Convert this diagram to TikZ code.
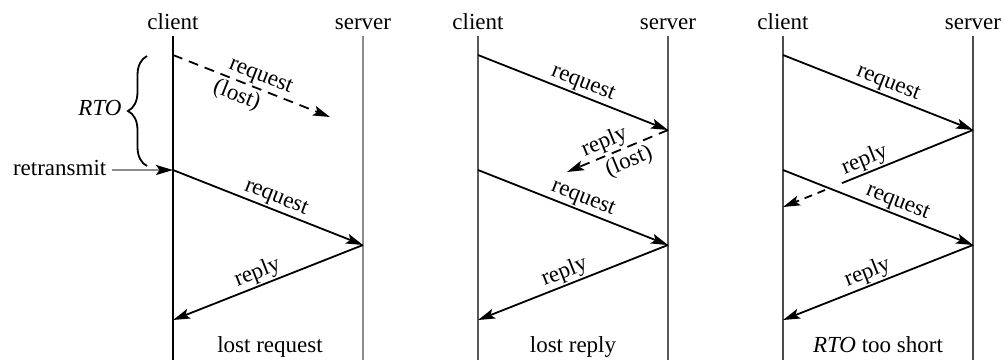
\documentclass[tikz,border=0pt]{standalone}
\usepackage{fontspec}
\setmainfont{Liberation Serif}
\usetikzlibrary{arrows.meta,decorations.pathreplacing}
\begin{document}
\begin{tikzpicture}[x=1pt,y=-1pt,
  every node/.style={font=\fontsize{23}{27}\selectfont, inner sep=1.5pt},
  tipstyle/.style={-{Stealth[length=17pt,width=10pt,inset=3.5pt]}},
  msg/.style={draw=black, line width=1.8pt, tipstyle},
  lostmsg/.style={msg, dash pattern=on 10pt off 7pt},
  plainmsg/.style={draw=black, line width=1.8pt},
  lifeA/.style={draw=black, line width=2.4pt},
  lifeB/.style={draw=black!45, line width=2.4pt},
  lifeC/.style={draw=black!65, line width=2.2pt},
  lifeD/.style={draw=black!70, line width=1.6pt},
  headlbl/.style={anchor=base},
  caplbl/.style={anchor=base},
  lostlbl/.style={sloped,below,inner sep=0pt,yshift=-3pt}
]
\useasboundingbox (0,0) rectangle (1004,360);

% ---------- panel 1 ----------
\node[headlbl] (c1) at (173,29) {client};
\node[headlbl] (s1) at (363,29) {server};
\coordinate (c1t) at (173,36); \coordinate (c1b) at (173,360);
\coordinate (s1t) at (363,36); \coordinate (s1b) at (363,360);
\draw[lifeA] (c1t) -- (c1b);
\draw[lifeB] (s1t) -- (s1b);
\coordinate (p1a) at (173,55);  \coordinate (p1b) at (330,117);
\coordinate (p1c) at (173,170); \coordinate (p1d) at (363,245);
\coordinate (p1e) at (173,320);
\draw[lostmsg] (p1a) -- node[sloped,above,pos=0.53] (l1a) {request}
                        node[lostlbl,pos=0.44] (l1b) {(lost)} (p1b);
\draw[msg] (p1c) -- node[sloped,above,pos=0.52] (l1c) {request} (p1d);
\draw[msg] (p1d) -- node[sloped,above,pos=0.53] (l1d) {reply} (p1e);
\node[caplbl] (cap1) at (270,352) {lost request};
% brace and retransmit
\coordinate (b1) at (147,166); \coordinate (b2) at (147,56);
\draw[line width=1.8pt, decorate, decoration={brace, amplitude=19pt}] (b1) -- (b2);
\node (rto) at (100,108) {\itshape RTO};
\node[anchor=east] (rt) at (108,168) {retransmit};
\draw[draw=black!45, line width=2pt, -{Stealth[length=17pt,width=10pt,inset=3.5pt,black]}] (rt.east) ++(4,2) -- (p1c);

% ---------- panel 2 ----------
\node[headlbl] (c2) at (478,29) {client};
\node[headlbl] (s2) at (668,29) {server};
\coordinate (c2t) at (478,36); \coordinate (c2b) at (478,360);
\coordinate (s2t) at (668,36); \coordinate (s2b) at (668,360);
\draw[lifeC] (c2t) -- (c2b);
\draw[lifeC] (s2t) -- (s2b);
\coordinate (p2a) at (478,55);  \coordinate (p2b) at (668,130);
\coordinate (p2c) at (567,172);
\coordinate (p2d) at (478,170); \coordinate (p2e) at (668,245);
\coordinate (p2f) at (478,320);
\draw[msg] (p2a) -- node[sloped,above,pos=0.53] (l2a) {request} (p2b);
\draw[lostmsg] (p2b) -- node[sloped,above,pos=0.58] (l2b) {reply}
                        node[lostlbl,pos=0.44] (l2c) {(lost)} (p2c);
\draw[msg] (p2d) -- node[sloped,above,pos=0.53] (l2d) {request} (p2e);
\draw[msg] (p2e) -- node[sloped,above,pos=0.52] (l2e) {reply} (p2f);
\node[caplbl] (cap2) at (573,352) {lost reply};

% ---------- panel 3 ----------
\node[headlbl] (c3) at (783,29) {client};
\node[headlbl] (s3) at (973,29) {server};
\coordinate (c3t) at (783,36); \coordinate (c3b) at (783,360);
\coordinate (s3t) at (973,36); \coordinate (s3b) at (973,360);
\draw[lifeD] (c3t) -- (c3b);
\draw[lifeD] (s3t) -- (s3b);
\coordinate (p3a) at (783,55);  \coordinate (p3b) at (973,130);
\coordinate (p3g) at (842,183.1); \coordinate (p3h) at (825,190);
\coordinate (p3c) at (783,207);
\coordinate (p3d) at (783,170); \coordinate (p3e) at (973,245);
\coordinate (p3f) at (783,320);
\draw[msg] (p3a) -- node[sloped,above,pos=0.53] (l3a) {request} (p3b);
\draw[plainmsg] (p3b) -- node[sloped,above,pos=0.79] (l3b) {reply} (p3g);
\draw[msg, dash pattern=on 8pt off 6pt] (p3h) -- (p3c);
\draw[msg] (p3d) -- node[sloped,above,pos=0.58] (l3d) {request} (p3e);
\draw[msg] (p3e) -- node[sloped,above,pos=0.53] (l3e) {reply} (p3f);
\node[caplbl] (cap3) at (878,352) {\itshape RTO\upshape{} too short};
\end{tikzpicture}
\end{document}
